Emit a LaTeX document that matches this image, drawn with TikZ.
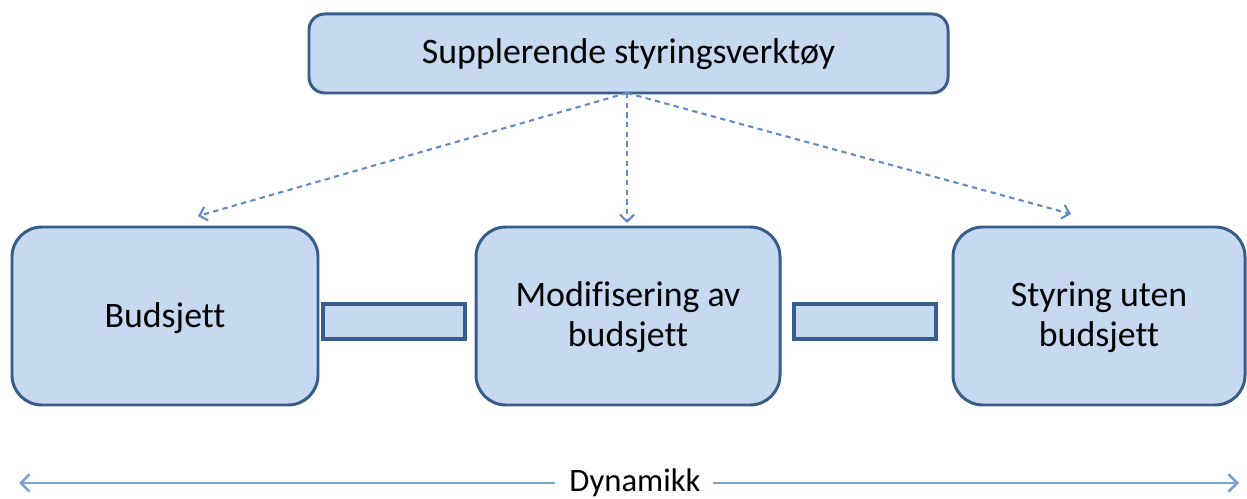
\documentclass[tikz,border=0pt]{standalone}
\usepackage{fontspec}
\setmainfont{Carlito}[Ligatures=NoCommon]
\usetikzlibrary{arrows.meta}
\definecolor{boxfill}{RGB}{198,217,241}
\definecolor{boxline}{RGB}{56,93,138}
\definecolor{arrowcol}{RGB}{95,140,200}
\definecolor{dyncol}{RGB}{120,160,210}
\begin{document}
\begin{tikzpicture}[x=0.02cm,y=-0.02cm,
  box/.style={draw=boxline,fill=boxfill,line width=1.7pt,rounded corners=#1},
  box/.default=16pt,
  lbl/.style={font=\fontsize{20.4}{22.7}\selectfont,align=center,inner sep=0pt},
  linkbox/.style={draw=boxline,fill=boxfill,line width=1.9pt},
  dasharrow/.style={draw=arrowcol,line width=1.2pt,dash pattern=on 3pt off 2.5pt,-{Straight Barb[length=4pt,width=8pt,line width=1.2pt]}},
  dynarrow/.style={draw=dyncol,line width=1.5pt,-{Straight Barb[length=5pt,width=10pt]}}
]
\useasboundingbox (0,0) rectangle (1247,499);
% top box
\draw[box=9pt] (309,14) rectangle (948,93);
\node[lbl] (top) at (628.5,54) {Supplerende styringsverktøy};
\coordinate (topb) at (627,93);
% lower boxes
\draw[box=17pt] (12,227) rectangle (318,405);
\node[lbl] (bud) at (165,318) {Budsjett};
\draw[box=17pt] (476,227) rectangle (780,405);
\node[lbl] (mod) at (628,317) {Modifisering av\\budsjett};
\draw[box=17pt] (953,227) rectangle (1245,405);
\node[lbl] (sty) at (1099,317) {Styring uten\\budsjett};
% link rectangles
\draw[linkbox] (323,304) rectangle (465,339);
\draw[linkbox] (794,304) rectangle (936,339);
% dashed arrows
\coordinate (t1) at (198,216);
\coordinate (t2) at (627,223);
\coordinate (t3) at (1071,214);
\draw[dasharrow] (topb) -- (t1);
\draw[dasharrow] (topb) -- (t2);
\draw[dasharrow] (topb) -- (t3);
% Dynamikk
\node[lbl,font=\fontsize{18.6}{20}\selectfont,anchor=base] (dyn) at (635,492) {Dynamikk};
\coordinate (dl) at (19,483);
\coordinate (dr) at (1239,483);
\coordinate (gl) at (555,483);
\coordinate (gr) at (713,483);
\draw[dynarrow] (gl) -- (dl);
\draw[dynarrow] (gr) -- (dr);
\end{tikzpicture}
\end{document}
